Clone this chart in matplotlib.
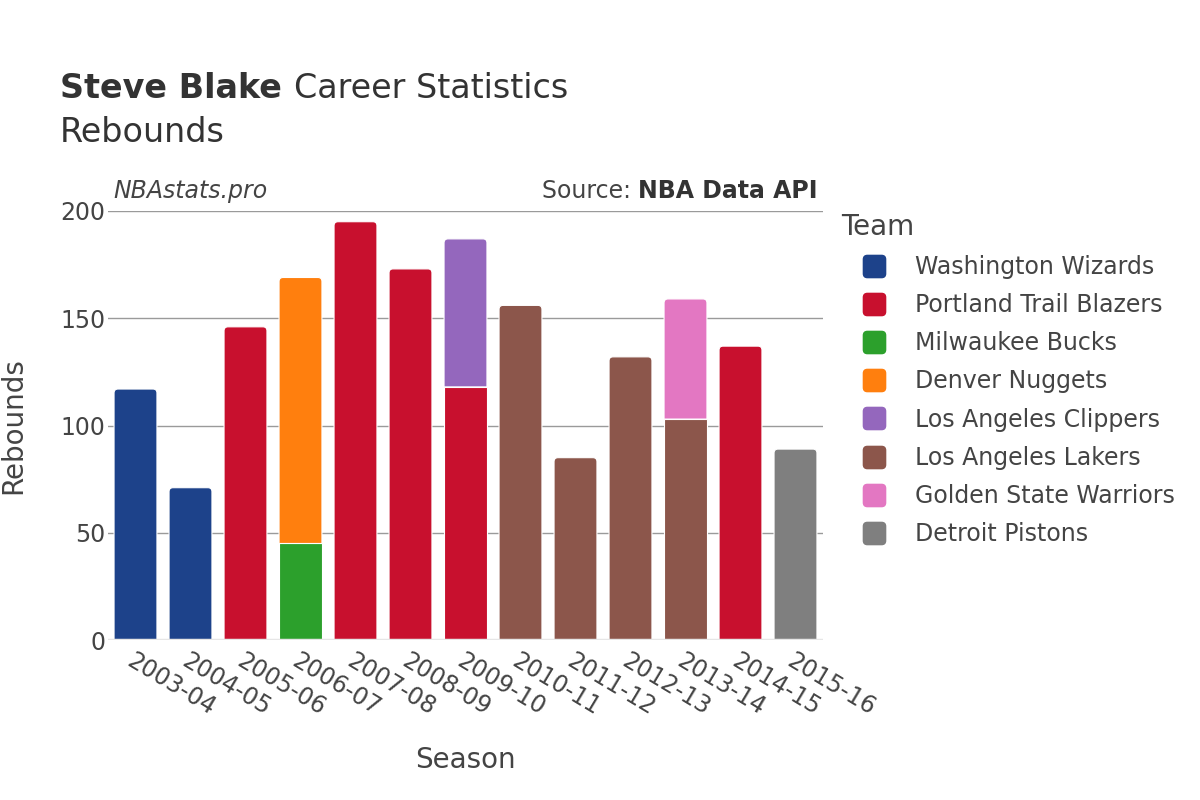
import matplotlib
matplotlib.use('Agg')
import matplotlib.pyplot as plt
from matplotlib.lines import Line2D
from matplotlib.path import Path
from matplotlib.patches import PathPatch
import numpy as np

seasons = ['2003-04', '2004-05', '2005-06', '2006-07', '2007-08', '2008-09', '2009-10',
           '2010-11', '2011-12', '2012-13', '2013-14', '2014-15', '2015-16']

teams = ['Washington Wizards', 'Portland Trail Blazers', 'Milwaukee Bucks', 'Denver Nuggets',
         'Los Angeles Clippers', 'Los Angeles Lakers', 'Golden State Warriors', 'Detroit Pistons']

team_colors = ['#1d428a', '#c8102e', '#2ca02c', '#ff7f0e',
               '#9467bd', '#8c564b', '#e377c2', '#7f7f7f']

# rebounds per season for each team (0 = did not play there)
washington = [117, 71, 0, 0, 0, 0, 0, 0, 0, 0, 0, 0, 0]
portland   = [0, 0, 146, 0, 195, 173, 118, 0, 0, 0, 0, 137, 0]
milwaukee  = [0, 0, 0, 45, 0, 0, 0, 0, 0, 0, 0, 0, 0]
denver     = [0, 0, 0, 124, 0, 0, 0, 0, 0, 0, 0, 0, 0]
clippers   = [0, 0, 0, 0, 0, 0, 69, 0, 0, 0, 0, 0, 0]
lakers     = [0, 0, 0, 0, 0, 0, 0, 156, 85, 132, 103, 0, 0]
warriors   = [0, 0, 0, 0, 0, 0, 0, 0, 0, 0, 56, 0, 0]
detroit    = [0, 0, 0, 0, 0, 0, 0, 0, 0, 0, 0, 0, 89]

team_values = [washington, portland, milwaukee, denver, clippers, lakers, warriors, detroit]

TXT = '#444444'
DARK = '#333333'
plt.rcParams['font.family'] = ['DejaVu Sans']

W, H = 1200, 800
AX_L, AX_R, AX_T, AX_B = 108, 823, 211, 640

fig = plt.figure(figsize=(12, 8), dpi=100)
ax = fig.add_axes([AX_L / W, 1 - AX_B / H, (AX_R - AX_L) / W, (AX_B - AX_T) / H])

x = np.arange(len(seasons))
ax.set_xlim(-0.5, len(seasons) - 0.5)
ax.set_ylim(0, 200)

# pixel -> data scale for rounded corners (~4 px radius)
px_x = (AX_R - AX_L) / len(seasons)
px_y = (AX_B - AX_T) / 200
rx, ry = 4 / px_x, 4 / px_y

bottom = np.zeros(len(seasons))
top_bar = [None] * len(seasons)
for team, vals, col in zip(teams, team_values, team_colors):
    vals = np.array(vals, dtype=float)
    bars = ax.bar(x, vals, width=0.78, bottom=bottom, color=col,
                  edgecolor='white', linewidth=0.8, zorder=2)
    for i, b in enumerate(bars):
        if vals[i] > 0:
            top_bar[i] = b
        else:
            b.set_visible(False)
    bottom += vals

# round the top corners of the topmost segment in each season
for b in top_bar:
    x0, y0, w, h = b.get_x(), b.get_y(), b.get_width(), b.get_height()
    x1, y1 = x0 + w, y0 + h
    verts = [(x0, y0), (x1, y0), (x1, y1 - ry), (x1, y1), (x1 - rx, y1),
             (x0 + rx, y1), (x0, y1), (x0, y1 - ry), (x0, y0)]
    codes = [Path.MOVETO, Path.LINETO, Path.LINETO, Path.CURVE3, Path.CURVE3,
             Path.LINETO, Path.CURVE3, Path.CURVE3, Path.CLOSEPOLY]
    patch = PathPatch(Path(verts, codes), facecolor=b.get_facecolor(),
                      edgecolor='white', linewidth=0.8, zorder=2)
    b.set_visible(False)
    ax.add_patch(patch)

for s in ax.spines.values():
    s.set_visible(False)
ax.axhline(0, color='#e6e6e6', lw=2.5, zorder=3)
ax.set_yticks([0, 50, 100, 150, 200])
ax.yaxis.grid(True, color='#9a9a9a', lw=1)
ax.set_axisbelow(True)
ax.tick_params(axis='y', length=0, pad=2, labelsize=17, labelcolor=TXT)
ax.tick_params(axis='x', length=0, pad=6, labelsize=17, labelcolor=TXT)
ax.set_xticks(x)
ax.set_xticklabels(seasons, rotation=-31, ha='left', va='top', rotation_mode='anchor')

ax.set_ylabel('Rebounds', fontsize=20, color=TXT)
ax.yaxis.set_label_coords((27 - AX_L) / (AX_R - AX_L), 0.5)
ax.set_xlabel('Season', fontsize=20, color=TXT)
ax.xaxis.set_label_coords(0.5, (AX_B - 746) / (AX_B - AX_T))

# titles
fig.canvas.draw()
renderer = fig.canvas.get_renderer()

t1 = fig.text(60 / W, 1 - 89 / H, 'Steve Blake ', fontsize=24, fontweight='bold',
              color=DARK, va='center')
bb = t1.get_window_extent(renderer)
fig.text(bb.x1 / W, 1 - 89 / H, 'Career Statistics', fontsize=24,
         color=DARK, va='center')
fig.text(60 / W, 1 - 132 / H, 'Rebounds', fontsize=24, color=DARK, va='center')

fig.text(113 / W, 1 - 191 / H, 'NBAstats.pro', fontsize=17, style='italic',
         color=TXT, va='center')
t2 = fig.text(818 / W, 1 - 191 / H, 'NBA Data API', fontsize=17, fontweight='bold',
              color=DARK, va='center', ha='right')
bb = t2.get_window_extent(renderer)
fig.text(bb.x0 / W, 1 - 191 / H, 'Source: ', fontsize=17, color=TXT,
         va='center', ha='right')

# legend markers: small rounded squares
sq = 0.5
rr = 0.18
marker_path = Path(
    [(-sq + rr, -sq), (sq - rr, -sq), (sq, -sq), (sq, -sq + rr), (sq, sq - rr), (sq, sq),
     (sq - rr, sq), (-sq + rr, sq), (-sq, sq), (-sq, sq - rr), (-sq, -sq + rr), (-sq, -sq),
     (-sq + rr, -sq), (-sq + rr, -sq)],
    [Path.MOVETO, Path.LINETO, Path.CURVE3, Path.CURVE3, Path.LINETO, Path.CURVE3,
     Path.CURVE3, Path.LINETO, Path.CURVE3, Path.CURVE3, Path.LINETO, Path.CURVE3,
     Path.CURVE3, Path.CLOSEPOLY])

handles = [Line2D([], [], marker=marker_path, linestyle='none', markersize=16,
                  markerfacecolor=c, markeredgecolor=c) for c in team_colors]
leg = fig.legend(handles, teams, loc='upper left', bbox_to_anchor=(829 / W, 1 - 201 / H),
                 frameon=False, title='Team', fontsize=17, title_fontsize=20,
                 labelspacing=0.6, handletextpad=0.34, borderpad=0, handlelength=2.8)
leg._legend_box.align = 'left'
for t in leg.get_texts():
    t.set_color(TXT)
leg.get_title().set_color(TXT)

fig.savefig('out.png', dpi=100)
